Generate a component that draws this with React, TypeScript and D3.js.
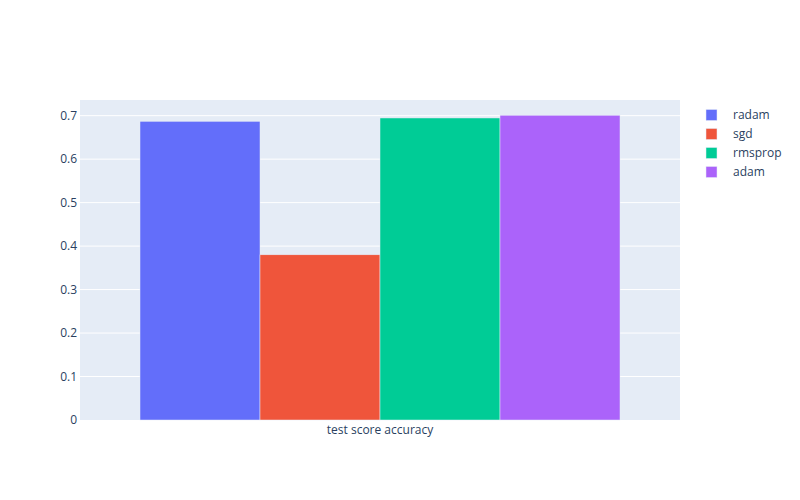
import React from "react";
import * as d3 from "d3";

const categories = ["test score accuracy"];
const seriesNames = ["radam", "sgd", "rmsprop", "adam"];
const seriesValues = [0.687, 0.380, 0.6947, 0.701];
const colors = ["#636efa", "#EF553B", "#00cc96", "#ab63fa"];
const yTicks = [0, 0.1, 0.2, 0.3, 0.4, 0.5, 0.6, 0.7];

export default function App() {
  const W = 800, H = 500;
  const m = { l: 80, r: 120, t: 100, b: 80 };
  const pw = W - m.l - m.r;
  const ph = H - m.t - m.b;
  const yMax = d3.max(seriesValues)! * 1.05;
  const x = d3.scaleBand().domain(categories).range([0, pw]).paddingInner(0.2).paddingOuter(0.1);
  const x1 = d3.scaleBand().domain(seriesNames).range([0, x.bandwidth()]);
  const y = d3.scaleLinear().domain([0, yMax]).range([ph, 0]);
  const font = '"Open Sans", verdana, arial, sans-serif';
  return (
    <svg width={W} height={H} style={{ position: "absolute", left: 0, top: 0 }} fontFamily={font}>
      <rect width={W} height={H} fill="#fff" />
      <g transform={`translate(${m.l},${m.t})`}>
        <rect width={pw} height={ph} fill="#E5ECF6" />
        {yTicks.slice(1).map((t) => (
          <line key={t} x1={0} x2={pw} y1={y(t)} y2={y(t)} stroke="#fff" strokeWidth={1} />
        ))}
        {categories.map((c) =>
          seriesNames.map((s, i) => (
            <rect
              key={c + s}
              x={x(c)! + x1(s)!}
              y={y(seriesValues[i])}
              width={x1.bandwidth()}
              height={ph - y(seriesValues[i])}
              fill={colors[i]}
              stroke="#E5ECF6"
              strokeWidth={0.5}
            />
          ))
        )}
        {yTicks.map((t) => (
          <text key={t} x={-3} y={y(t)} dy="0.35em" textAnchor="end" fontSize={12} fill="#2a3f5f">
            {t === 0 ? "0" : d3.format(".1f")(t)}
          </text>
        ))}
        {categories.map((c) => (
          <text key={c} x={x(c)! + x.bandwidth() / 2} y={ph + 14} textAnchor="middle" fontSize={12} fill="#2a3f5f">
            {c}
          </text>
        ))}
      </g>
      <g transform="translate(700,115)">
        {seriesNames.map((s, i) => (
          <g key={s} transform={`translate(0,${i * 19})`}>
            <rect x={6} y={-5.5} width={11} height={11} fill={colors[i]} stroke="#E5ECF6" strokeWidth={0.5} />
            <text x={33} y={0} dy="0.35em" fontSize={12} fill="#2a3f5f">{s}</text>
          </g>
        ))}
      </g>
    </svg>
  );
}
